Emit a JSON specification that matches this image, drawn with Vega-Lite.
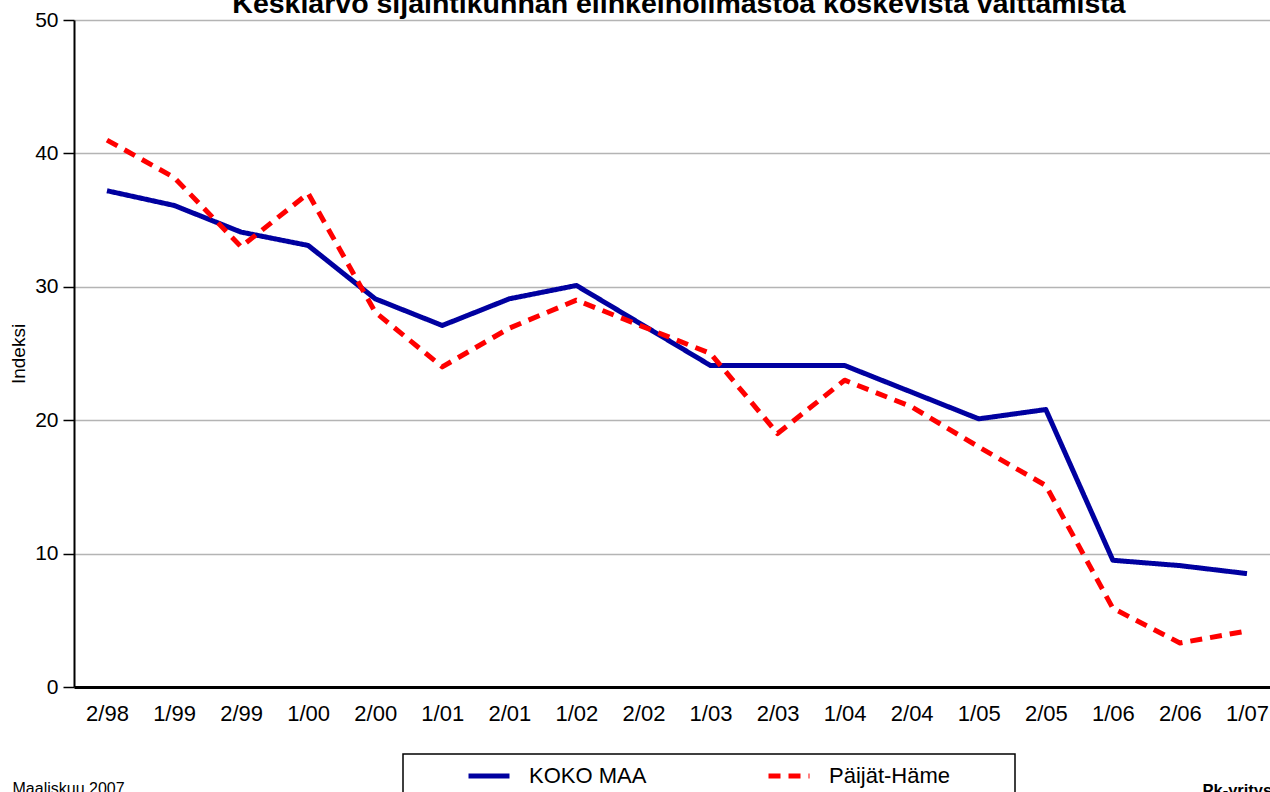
{
  "$schema": "https://vega.github.io/schema/vega-lite/v6.json",
  "autosize": "none",
  "width": 1196,
  "height": 667,
  "padding": {"left": 74, "top": 20, "right": 0, "bottom": 105},
  "background": "white",
  "title": {
    "text": "Keskiarvo sijaintikunnan elinkeinoilmastoa koskevista väittämistä",
    "fontSize": 28.5,
    "fontWeight": "bold",
    "font": "Liberation Sans",
    "color": "black",
    "baseline": "alphabetic",
    "offset": 0,
    "dy": 32,
    "dx": 7,
    "anchor": "middle"
  },
  "config": {
    "view": {"stroke": null},
    "font": "Liberation Sans",
    "axis": {
      "labelFont": "Liberation Sans",
      "labelColor": "black",
      "labelFontSize": 21,
      "titleFont": "Liberation Sans",
      "titleColor": "black",
      "titleFontWeight": "normal"
    },
    "legend": {
      "orient": "none",
      "legendX": 329,
      "legendY": 734,
      "direction": "horizontal",
      "strokeColor": "black",
      "strokeWidth": 1.5,
      "fillColor": "white",
      "padding": 9,
      "symbolType": "M-2,0H2",
      "symbolSize": 420,
      "symbolStrokeWidth": 5,
      "symbolOffset": 64,
      "labelOffset": 27,
      "labelFontSize": 22,
      "labelFont": "Liberation Sans",
      "labelColor": "black",
      "columnPadding": 65,
      "titleOrient": "right",
      "titleFontSize": 22,
      "titlePadding": 56
    }
  },
  "data": {
    "values": [
      {"period": "2/98", "series": "KOKO MAA", "value": 37.2},
      {"period": "1/99", "series": "KOKO MAA", "value": 36.1},
      {"period": "2/99", "series": "KOKO MAA", "value": 34.1},
      {"period": "1/00", "series": "KOKO MAA", "value": 33.1},
      {"period": "2/00", "series": "KOKO MAA", "value": 29.1},
      {"period": "1/01", "series": "KOKO MAA", "value": 27.1},
      {"period": "2/01", "series": "KOKO MAA", "value": 29.1},
      {"period": "1/02", "series": "KOKO MAA", "value": 30.1},
      {"period": "2/02", "series": "KOKO MAA", "value": 27.1},
      {"period": "1/03", "series": "KOKO MAA", "value": 24.1},
      {"period": "2/03", "series": "KOKO MAA", "value": 24.1},
      {"period": "1/04", "series": "KOKO MAA", "value": 24.1},
      {"period": "2/04", "series": "KOKO MAA", "value": 22.1},
      {"period": "1/05", "series": "KOKO MAA", "value": 20.1},
      {"period": "2/05", "series": "KOKO MAA", "value": 20.8},
      {"period": "1/06", "series": "KOKO MAA", "value": 9.5},
      {"period": "2/06", "series": "KOKO MAA", "value": 9.1},
      {"period": "1/07", "series": "KOKO MAA", "value": 8.5},
      {"period": "2/98", "series": "Päijät-Häme", "value": 41.0},
      {"period": "1/99", "series": "Päijät-Häme", "value": 38.2},
      {"period": "2/99", "series": "Päijät-Häme", "value": 33.0},
      {"period": "1/00", "series": "Päijät-Häme", "value": 37.0},
      {"period": "2/00", "series": "Päijät-Häme", "value": 28.1},
      {"period": "1/01", "series": "Päijät-Häme", "value": 24.0},
      {"period": "2/01", "series": "Päijät-Häme", "value": 26.9},
      {"period": "1/02", "series": "Päijät-Häme", "value": 29.0},
      {"period": "2/02", "series": "Päijät-Häme", "value": 27.0},
      {"period": "1/03", "series": "Päijät-Häme", "value": 25.0},
      {"period": "2/03", "series": "Päijät-Häme", "value": 19.0},
      {"period": "1/04", "series": "Päijät-Häme", "value": 23.0},
      {"period": "2/04", "series": "Päijät-Häme", "value": 21.0},
      {"period": "1/05", "series": "Päijät-Häme", "value": 18.0},
      {"period": "2/05", "series": "Päijät-Häme", "value": 15.1},
      {"period": "1/06", "series": "Päijät-Häme", "value": 5.9},
      {"period": "2/06", "series": "Päijät-Häme", "value": 3.3},
      {"period": "1/07", "series": "Päijät-Häme", "value": 4.2}
    ]
  },
  "encoding": {
    "x": {
      "field": "period",
      "type": "ordinal",
      "sort": ["2/98","1/99","2/99","1/00","2/00","1/01","2/01","1/02","2/02","1/03","2/03","1/04","2/04","1/05","2/05","1/06","2/06","1/07"],
      "scale": {"type": "point", "padding": 0.4175, "align": 0.589},
      "axis": {
        "title": "Maaliskuu 2007",
        "titleFontSize": 16,
        "titleAlign": "left",
        "titleBaseline": "alphabetic",
        "titleAngle": 0,
        "titleX": -62,
        "titleY": 106,
        "labelAngle": 0,
        "labelFontSize": 22,
        "ticks": false,
        "labelPadding": 16,
        "domainColor": "black",
        "domainWidth": 3,
        "grid": false
      }
    },
    "color": {
      "field": "series",
      "type": "nominal",
      "scale": {"domain": ["KOKO MAA", "Päijät-Häme"], "range": ["#0000a0", "#ff0000"]},
      "legend": {"title": " "}
    },
    "strokeDash": {
      "field": "series",
      "type": "nominal",
      "scale": {"domain": ["KOKO MAA", "Päijät-Häme"], "range": [[1, 0], [12, 8]]},
      "legend": {"title": " "}
    }
  },
  "layer": [
    {
      "transform": [{"filter": "datum.series === 'KOKO MAA'"}],
      "mark": {"type": "line", "strokeWidth": 5, "strokeJoin": "round"},
      "encoding": {
        "y": {
          "field": "value",
          "type": "quantitative",
          "scale": {"domain": [0, 50], "nice": false},
          "axis": {
            "orient": "left",
            "title": "Indeksi",
            "titleFontSize": 19,
            "titlePadding": 6,
            "values": [0, 10, 20, 30, 40, 50],
            "domainColor": "black",
            "domainWidth": 2,
            "tickColor": "black",
            "tickSize": 11,
            "tickWidth": 1.5,
            "labelPadding": 5,
            "grid": true,
            "gridColor": "#b4b4b4",
            "gridWidth": 1.5
          }
        }
      }
    },
    {
      "transform": [{"filter": "datum.series === 'Päijät-Häme'"}],
      "mark": {"type": "line", "strokeWidth": 5, "strokeJoin": "round"},
      "encoding": {
        "y": {
          "field": "value",
          "type": "quantitative",
          "scale": {"domain": [0, 50], "nice": false},
          "axis": {
            "orient": "right",
            "title": "Pk-yritysbarometri",
            "titleFontSize": 16.5,
            "titleFontWeight": "bold",
            "titleAngle": 0,
            "titleAlign": "left",
            "titleBaseline": "alphabetic",
            "titleX": -68,
            "titleY": 775,
            "labels": false,
            "ticks": false,
            "domain": false,
            "grid": false
          }
        }
      }
    }
  ],
  "resolve": {"axis": {"y": "independent"}}
}
